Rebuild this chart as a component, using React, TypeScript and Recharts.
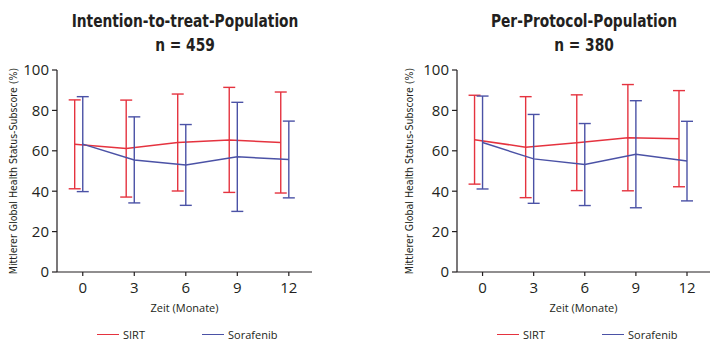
import { ErrorBar, Line, LineChart, XAxis, YAxis } from "recharts";

const months = [0, 3, 6, 9, 12];
const yTicks = [0, 20, 40, 60, 80, 100];

// Intention-to-treat, n = 459
const ittSirtMean = [63.2, 61.1, 64.1, 65.4, 64.1];
const ittSirtSd = [22, 24, 24, 26, 25];
const ittSoraMean = [63.3, 55.5, 53, 57, 55.7];
const ittSoraSd = [23.5, 21.3, 20, 27, 19];

// Per-Protocol, n = 380
const ppSirtMean = [65.5, 61.8, 64, 66.5, 66];
const ppSirtSd = [22, 25, 23.7, 26.3, 23.8];
const ppSoraMean = [64.1, 56, 53.2, 58.3, 54.9];
const ppSoraSd = [23, 22, 20.3, 26.5, 19.7];

const RED = "#e5333f";
const BLUE = "#4b52a6";
const INK = "#231f20";
const DODGE = -0.47;
const sans = "'Open Sans', 'Noto Sans', sans-serif";
const narrow = "'Liberation Sans Narrow', 'DejaVu Sans Condensed', sans-serif";

function toSeries(mean: number[], sd: number[], shift: number) {
  return months.map((m, i) => ({ x: m + shift, y: mean[i], err: sd[i] }));
}

interface PanelProps {
  title: string;
  n: number;
  sirtMean: number[];
  sirtSd: number[];
  soraMean: number[];
  soraSd: number[];
  left: number;
  right: number;
  labelOffset: number;
}

function Panel(p: PanelProps) {
  const sirt = toSeries(p.sirtMean, p.sirtSd, DODGE);
  const sora = toSeries(p.soraMean, p.soraSd, 0);
  const plotLeft = p.left + 48;
  const plotRight = 360 - p.right;
  const center = (plotLeft + plotRight) / 2;
  return (
    <div style={{ position: "relative", width: 360, height: 348 }}>
      <div
        style={{
          position: "absolute",
          left: center - 150,
          width: 300,
          top: 9,
          textAlign: "center",
          fontFamily: narrow,
          fontWeight: "bold",
          fontSize: 17,
          lineHeight: "24px",
          color: INK,
          transform: "scaleX(0.9)",
        }}
      >
        {p.title}
        <br />n = {p.n}
      </div>
      <LineChart
        width={360}
        height={348}
        margin={{ top: 70, right: p.right, bottom: 36, left: p.left }}
      >
        <XAxis
          type="number"
          dataKey="x"
          domain={[-1.5, 13.35]}
          ticks={months}
          allowDataOverflow
          height={40}
          tickSize={4}
          tickMargin={6}
          axisLine={{ stroke: INK, strokeWidth: 1.2 }}
          tickLine={{ stroke: INK, strokeWidth: 1.2 }}
          tick={{ fontSize: 15, fill: INK, fontFamily: sans }}
          label={{
            value: "Zeit (Monate)",
            position: "insideBottom",
            offset: 0,
            style: { fontSize: 11, fill: INK, fontFamily: sans },
          }}
        />
        <YAxis
          type="number"
          domain={[0, 100]}
          ticks={yTicks}
          interval={0}
          width={48}
          tickSize={5}
          tickMargin={3}
          axisLine={{ stroke: INK, strokeWidth: 1.2 }}
          tickLine={{ stroke: INK, strokeWidth: 1.2 }}
          tick={{ fontSize: 15, fill: INK, fontFamily: sans }}
          label={{
            value: "Mittlerer Global Health Status-Subscore (%)",
            angle: -90,
            position: "insideLeft",
            offset: p.labelOffset,
            style: { fontSize: 10.5, fill: INK, fontFamily: narrow, textAnchor: "middle" },
          }}
        />
        <Line
          data={sirt}
          dataKey="y"
          type="linear"
          stroke={RED}
          strokeWidth={1.5}
          dot={false}
          isAnimationActive={false}
        >
          <ErrorBar dataKey="err" width={6} stroke={RED} strokeWidth={1.4} direction="y" />
        </Line>
        <Line
          data={sora}
          dataKey="y"
          type="linear"
          stroke={BLUE}
          strokeWidth={1.5}
          dot={false}
          isAnimationActive={false}
        >
          <ErrorBar dataKey="err" width={6} stroke={BLUE} strokeWidth={1.4} direction="y" />
        </Line>
      </LineChart>
      <LegendRow x={p.left + 88} />
    </div>
  );
}

function LegendRow({ x }: { x: number }) {
  const item = (color: string, text: string, left: number) => (
    <div
      style={{
        position: "absolute",
        left,
        top: 0,
        display: "flex",
        alignItems: "center",
        fontFamily: sans,
        fontSize: 11,
        color: INK,
      }}
    >
      <span style={{ width: 22, height: 1.5, background: color, marginRight: 4 }} />
      {text}
    </div>
  );
  return (
    <div style={{ position: "absolute", left: x, top: 327, height: 16 }}>
      {item(RED, "SIRT", 0)}
      {item(BLUE, "Sorafenib", 105)}
    </div>
  );
}

export default function App() {
  return (
    <div
      style={{
        position: "absolute",
        left: 0,
        top: 0,
        width: 720,
        height: 348,
        background: "#fff",
        display: "flex",
      }}
    >
      <Panel
        title="Intention-to-treat-Population"
        n={459}
        sirtMean={ittSirtMean}
        sirtSd={ittSirtSd}
        soraMean={ittSoraMean}
        soraSd={ittSoraSd}
        left={9}
        right={48}
        labelOffset={4}
      />
      <Panel
        title="Per-Protocol-Population"
        n={380}
        sirtMean={ppSirtMean}
        sirtSd={ppSirtSd}
        soraMean={ppSoraMean}
        soraSd={ppSoraSd}
        left={49}
        right={10}
        labelOffset={0}
      />
    </div>
  );
}
